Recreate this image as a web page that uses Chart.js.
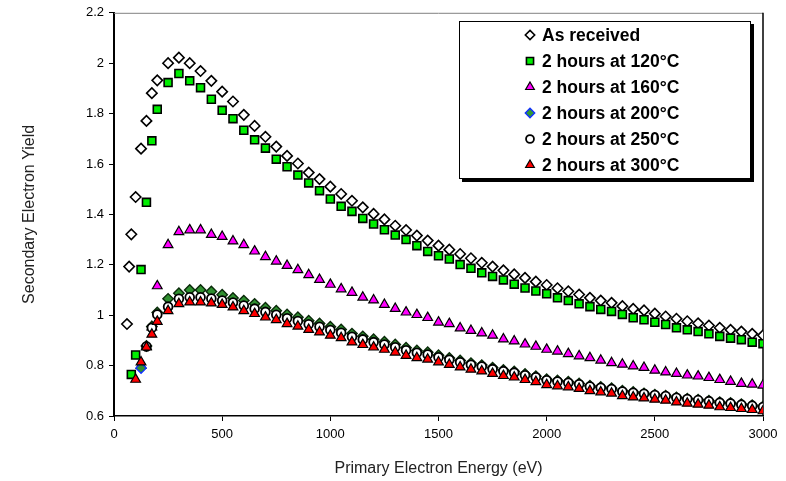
<!DOCTYPE html>
<html>
<head>
<meta charset="utf-8">
<script src="https://cdn.jsdelivr.net/npm/chart.js@4/dist/chart.umd.min.js"></script>
<style>
html,body{margin:0;padding:0;background:#fff;}
#wrap{position:relative;width:786px;height:481px;}
</style>
</head>
<body>
<div id="wrap"><canvas id="c" width="786" height="481"></canvas></div>
<script>
const energies = [60,70,80,100,125,150,175,200,250,300,350,400,450,500,550,600,650,700,750,800,850,900,950,1000,1050,1100,1150,1200,1250,1300,1350,1400,1450,1500,1550,1600,1650,1700,1750,1800,1850,1900,1950,2000,2050,2100,2150,2200,2250,2300,2350,2400,2450,2500,2550,2600,2650,2700,2750,2800,2850,2900,2950,3000];

const asReceived = [0.965,1.193,1.321,1.469,1.661,1.771,1.881,1.932,2.000,2.022,2.000,1.969,1.930,1.887,1.848,1.795,1.751,1.708,1.669,1.632,1.602,1.566,1.540,1.510,1.481,1.454,1.428,1.402,1.380,1.355,1.338,1.316,1.296,1.276,1.260,1.243,1.226,1.208,1.193,1.178,1.162,1.148,1.133,1.120,1.107,1.095,1.082,1.069,1.058,1.049,1.036,1.025,1.019,1.006,0.995,0.986,0.976,0.968,0.959,0.950,0.942,0.935,0.926,0.920];
const h120 = [null,null,0.765,0.842,1.181,1.448,1.692,1.817,1.923,1.959,1.930,1.903,1.857,1.813,1.780,1.734,1.696,1.663,1.619,1.589,1.556,1.525,1.494,1.461,1.432,1.412,1.384,1.362,1.339,1.318,1.300,1.276,1.253,1.236,1.223,1.201,1.186,1.168,1.154,1.140,1.123,1.108,1.096,1.085,1.069,1.058,1.045,1.034,1.023,1.015,1.003,0.990,0.982,0.972,0.963,0.950,0.942,0.935,0.926,0.916,0.909,0.903,0.893,0.887];
const h160 = [null,null,null,null,0.800,0.875,0.953,1.116,1.279,1.331,1.338,1.338,1.320,1.312,1.294,1.279,1.254,1.232,1.214,1.197,1.180,1.160,1.141,1.122,1.104,1.090,1.071,1.060,1.042,1.026,1.012,1.002,0.990,0.972,0.966,0.949,0.939,0.929,0.920,0.905,0.897,0.885,0.876,0.864,0.857,0.847,0.838,0.831,0.821,0.811,0.805,0.798,0.792,0.781,0.774,0.768,0.762,0.758,0.752,0.744,0.737,0.729,0.726,0.722];
const h200 = [null,null,null,null,0.790,0.878,0.955,1.011,1.065,1.087,1.100,1.100,1.094,1.081,1.068,1.058,1.045,1.030,1.018,1.003,0.992,0.978,0.967,0.954,0.943,0.927,0.916,0.905,0.895,0.884,0.871,0.860,0.853,0.841,0.830,0.820,0.810,0.802,0.792,0.783,0.777,0.767,0.758,0.746,0.741,0.736,0.729,0.720,0.715,0.710,0.700,0.695,0.690,0.685,0.681,0.674,0.669,0.665,0.661,0.655,0.652,0.647,0.643,0.638];
const h250 = [null,null,null,null,null,0.876,0.950,1.003,1.034,1.065,1.071,1.071,1.066,1.058,1.050,1.038,1.026,1.013,1.002,0.988,0.977,0.964,0.954,0.941,0.930,0.914,0.904,0.893,0.884,0.873,0.861,0.851,0.844,0.833,0.823,0.813,0.803,0.796,0.786,0.778,0.772,0.762,0.754,0.742,0.737,0.732,0.726,0.717,0.712,0.707,0.697,0.692,0.688,0.683,0.679,0.672,0.667,0.663,0.659,0.653,0.650,0.645,0.641,0.636];
const h300 = [null,null,null,0.745,0.814,0.873,0.924,0.975,1.017,1.045,1.052,1.052,1.048,1.042,1.032,1.017,1.006,0.992,0.982,0.966,0.956,0.943,0.933,0.920,0.910,0.893,0.883,0.873,0.864,0.853,0.840,0.831,0.825,0.814,0.804,0.794,0.785,0.778,0.768,0.760,0.754,0.744,0.736,0.724,0.719,0.715,0.709,0.700,0.695,0.690,0.680,0.675,0.671,0.666,0.662,0.655,0.650,0.646,0.642,0.636,0.633,0.629,0.625,0.620];

const seriesLabels = ['As received','2 hours at 120°C','2 hours at 160°C','2 hours at 200°C','2 hours at 250°C','2 hours at 300°C'];
const xTickValues = [0,500,1000,1500,2000,2500,3000];
const yTickValues = [0.6,0.8,1,1.2,1.4,1.6,1.8,2,2.2];
const yTickLabels = ['0.6','0.8','1','1.2','1.4','1.6','1.8','2','2.2'];
const xTitle = 'Primary Electron Energy (eV)';
const yTitle = 'Secondary Electron Yield';

function pts(vals){
  const out = [];
  vals.forEach((v,i)=>{ if(v!==null) out.push({x:energies[i], y:v}); });
  return out;
}

const styles = [
  {shape:'rectRot', fill:'#ffffff', stroke:'#000000', r:5.2, lw:1.6, order:5},
  {shape:'rect', fill:'#00ee00', stroke:'#000000', r:5.6, lw:1.6, order:4},
  {shape:'triangle', fill:'#ff00ff', stroke:'#000000', r:5.6, lw:1.2, order:3},
  {shape:'rectRot', fill:'#2f8f2f', stroke:'#0a2a0a', r:5.2, lw:1.4, order:2, legendStroke:'#1030ff', legendFill:'#339933'},
  {shape:'circle', fill:'#ffffff', stroke:'#000000', r:4.4, lw:1.8, order:1},
  {shape:'triangle', fill:'#ff0000', stroke:'#000000', r:5.6, lw:1.2, order:0}
];
const seriesVals = [asReceived,h120,h160,h200,h250,h300];

const datasets = seriesVals.map((vals,k)=>{
  const s = styles[k];
  const data = pts(vals);
  let border = s.stroke;
  if (k===3) border = data.map((p,i)=> i===0 ? '#1030ff' : s.stroke);
  return {
    label: seriesLabels[k],
    data: data,
    showLine: false,
    pointStyle: s.shape,
    pointRadius: s.r,
    pointHoverRadius: s.r,
    pointBackgroundColor: s.fill,
    pointBorderColor: border,
    pointBorderWidth: s.lw,
    order: s.order
  };
});

function drawMarker(ctx, shape, x, y, r, fill, stroke, lw){
  ctx.save();
  ctx.beginPath();
  if (shape==='rectRot'){
    ctx.moveTo(x, y-r); ctx.lineTo(x+r, y); ctx.lineTo(x, y+r); ctx.lineTo(x-r, y); ctx.closePath();
  } else if (shape==='rect'){
    const s = r*Math.SQRT1_2; ctx.rect(x-s, y-s, 2*s, 2*s);
  } else if (shape==='triangle'){
    for (let i=0;i<3;i++){ const a = i*2*Math.PI/3; const px = x+Math.sin(a)*r, py = y-Math.cos(a)*r; if(i===0) ctx.moveTo(px,py); else ctx.lineTo(px,py);} ctx.closePath();
  } else {
    ctx.arc(x, y, r, 0, Math.PI*2);
  }
  ctx.fillStyle = fill; ctx.fill();
  ctx.lineWidth = lw; ctx.strokeStyle = stroke; ctx.stroke();
  ctx.restore();
}

const framePlugin = {
  id:'frame',
  beforeDatasetsDraw(chart){
    const {ctx, chartArea:a} = chart;
    ctx.save();
    ctx.strokeStyle = '#808080'; ctx.lineWidth = 1;
    ctx.beginPath(); ctx.moveTo(a.left, a.top+0.5); ctx.lineTo(a.right, a.top+0.5); ctx.stroke();
    ctx.strokeStyle = '#000'; ctx.lineWidth = 1.5;
    ctx.beginPath(); ctx.moveTo(a.right, a.top); ctx.lineTo(a.right, a.bottom); ctx.stroke();
    ctx.restore();
  }
};

const legendPlugin = {
  id:'boxLegend',
  afterDraw(chart){
    const ctx = chart.ctx;
    const bx = 459, by = 21, bw = 292, bh = 158;
    ctx.save();
    ctx.fillStyle = '#000';
    ctx.fillRect(bx+3, by+3, bw, bh);
    ctx.fillStyle = '#fff';
    ctx.fillRect(bx, by, bw, bh);
    ctx.strokeStyle = '#000'; ctx.lineWidth = 1;
    ctx.strokeRect(bx+0.5, by+0.5, bw-1, bh-1);
    ctx.font = 'bold 17.5px "Liberation Sans", Arial, sans-serif';
    ctx.textBaseline = 'middle';
    ctx.textAlign = 'left';
    seriesLabels.forEach((lab,k)=>{
      const s = styles[k];
      const y = 35 + 26*k;
      drawMarker(ctx, s.shape, 530, y, s.r*0.9, s.legendFill||s.fill, s.legendStroke||s.stroke, s.lw);
      ctx.fillStyle = '#000';
      ctx.fillText(lab, 542, y+1);
    });
    ctx.restore();
  }
};

new Chart(document.getElementById('c'), {
  type:'scatter',
  data:{datasets},
  plugins:[framePlugin, legendPlugin],
  options:{
    responsive:false,
    animation:false,
    devicePixelRatio:1,
    layout:{padding:{top:12,right:23,left:0,bottom:0}},
    plugins:{legend:{display:false}, tooltip:{enabled:false}},
    scales:{
      x:{
        type:'linear', min:0, max:3000,
        afterFit(s){ s.height = 65; },
        afterBuildTicks(s){ s.ticks = xTickValues.map(v=>({value:v})); },
        ticks:{ color:'#000', padding:6, font:{family:'"Liberation Sans", Arial, sans-serif', size:13}, maxRotation:0, callback:(v)=>String(v) },
        grid:{ display:true, drawOnChartArea:false, drawTicks:true, tickLength:5, color:'#000', lineWidth:1 },
        border:{ display:true, color:'#000', width:1.5 },
        title:{ display:true, text:xTitle, color:'#222', font:{family:'"Liberation Sans", Arial, sans-serif', size:16}, padding:{top:0,bottom:3} }
      },
      y:{
        type:'linear', min:0.6, max:2.2,
        afterFit(s){ s.width = 114; },
        afterBuildTicks(s){ s.ticks = yTickValues.map(v=>({value:v})); },
        ticks:{ color:'#000', padding:5, font:{family:'"Liberation Sans", Arial, sans-serif', size:13}, callback:(v)=>{ const i = yTickValues.findIndex(t=>Math.abs(t-v)<1e-6); return i>=0 ? yTickLabels[i] : ''; } },
        grid:{ display:true, drawOnChartArea:false, drawTicks:true, tickLength:5, color:'#000', lineWidth:1 },
        border:{ display:true, color:'#000', width:2 },
        title:{ display:true, text:yTitle, color:'#222', font:{family:'"Liberation Sans", Arial, sans-serif', size:16}, padding:{top:20,bottom:0} }
      }
    }
  }
});
</script>
</body>
</html>
